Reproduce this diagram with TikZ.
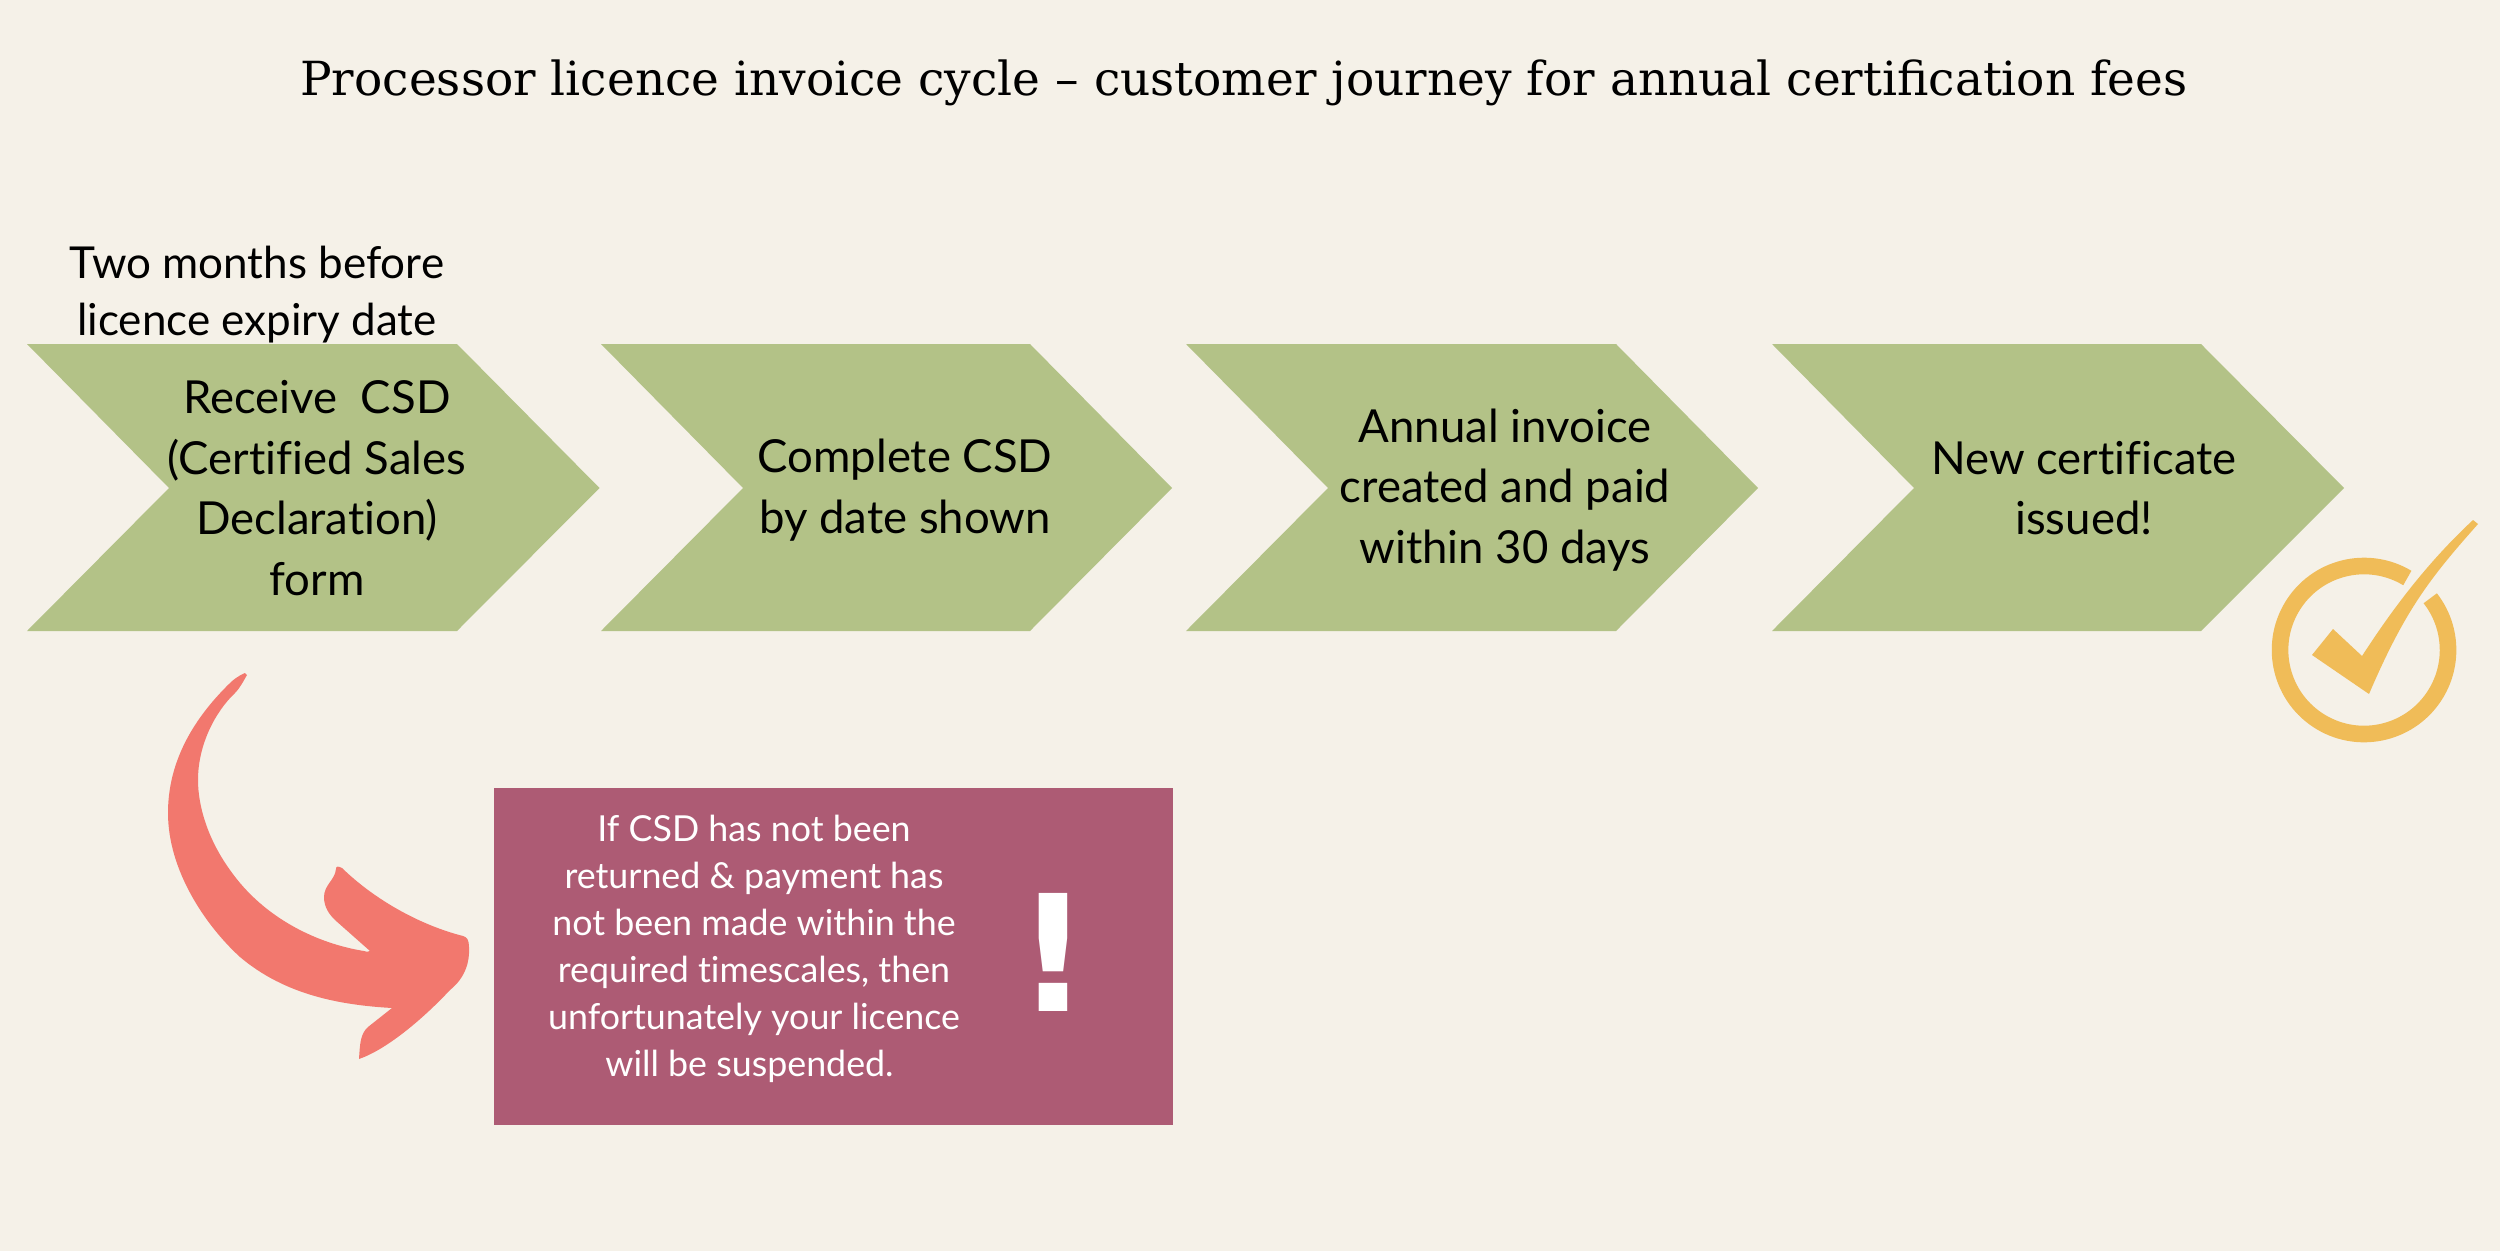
\documentclass[tikz,border=0pt]{standalone}
\usepackage{fontspec}
\setmainfont{Lato}[Ligatures=NoCommon]
\newfontfamily\titlefont{DejaVu Serif}
\newfontfamily\bangfont{DejaVu Sans}
\definecolor{bgc}{HTML}{F5F1E8}
\definecolor{chev}{HTML}{B3C287}
\definecolor{mauve}{HTML}{AD5B74}
\definecolor{coral}{HTML}{F2786E}
\definecolor{gold}{HTML}{F0BC58}
\tikzset{
  chevfill/.style={fill=chev,draw=none},
  body/.style={align=center,text=black,inner sep=0pt,font=\fontsize{45.5}{60.5}\selectfont},
  small/.style={align=center,text=white,inner sep=0pt,font=\fontsize{35.8}{47}\selectfont},
}
\begin{document}
\begin{tikzpicture}[x=1pt,y=-1pt]
\useasboundingbox (0,0) rectangle (2500,1250);
\fill[bgc] (-5,-5) rectangle (2505,1255);
\node[inner sep=0pt,font=\titlefont\fontsize{47}{50}\selectfont] (title) at (1244,83) {Processor licence invoice cycle – customer journey for annual certification fees};
\node[body,font=\fontsize{44}{57}\selectfont] (when) at (257,295) {Two months before\\licence expiry date};
\fill[chevfill] (27,344) -- (457,344) -- (599.5,488) -- (457,631) -- (27,631) -- (169,488) -- cycle;
\fill[chevfill] (601,344) -- (1030,344) -- (1172,488) -- (1030,631) -- (601,631) -- (743,488) -- cycle;
\fill[chevfill] (1186,344) -- (1616,344) -- (1758,488) -- (1616,631) -- (1186,631) -- (1328,488) -- cycle;
\fill[chevfill] (1772,344) -- (2201,344) -- (2344,488) -- (2201,631) -- (1772,631) -- (1914,488) -- cycle;
\node[body] (s1) at (317,488) {Receive\ \ CSD\\(Certified Sales\\Declaration)\\form};
\node[body] (s2) at (905,490) {Complete CSD\\by date shown};
\node[body] (s3) at (1505,490) {Annual invoice\\created and paid\\within 30 days};
\node[body] (s4) at (2084,488) {New certificate\\issued!};
\fill[mauve] (494,787.5) rectangle (1173,1125);
\node[small] (warn) at (754,949) {If CSD has not been\\returned \& payment has\\not been made within the\\required timescales, then\\unfortunately your licence\\will be suspended.\hspace*{9pt}};
\node[inner sep=0pt,text=white,font=\bangfont\bfseries\fontsize{162}{162}\selectfont] (bang) at (1053,952) {!};
% curved arrow
\fill[coral] (245,673) .. controls (238,676) and (233,680) .. (230,683)
  .. controls (190,722) and (168,765) .. (168,813)
  .. controls (168,870) and (205,925) .. (240,957)
  .. controls (285,995) and (340,1005) .. (392,1008)
  -- (368,1027) .. controls (360,1034) and (360,1045) .. (359,1059)
  .. controls (385,1050) and (420,1022) .. (450,990)
  .. controls (465,978) and (470,962) .. (469,947)
  .. controls (469,940) and (467,937) .. (463,936)
  .. controls (420,925) and (375,900) .. (342,868)
  .. controls (338,866) and (336,866) .. (336,869)
  .. controls (335,880) and (324,885) .. (324,897)
  .. controls (324,908) and (330,915) .. (335,920)
  -- (370,951) .. controls (368,952) and (366,952) .. (364,951)
  .. controls (320,944) and (265,920) .. (230,870)
  .. controls (207,838) and (198,805) .. (198,780)
  .. controls (198,745) and (215,712) .. (235,693)
  .. controls (240,688) and (244,680) .. (247,675) -- cycle;
% check badge
\draw[gold,line width=16.6pt] (2407.3,578) arc[start angle=59,end angle=398,radius=84pt];
\fill[gold] (2473,520) -- (2478,524)
  .. controls (2430,578) and (2405,610) .. (2369,694)
  -- (2312,655) -- (2333,629) -- (2362,656)
  .. controls (2395,605) and (2430,560) .. cycle;
\end{tikzpicture}
\end{document}
